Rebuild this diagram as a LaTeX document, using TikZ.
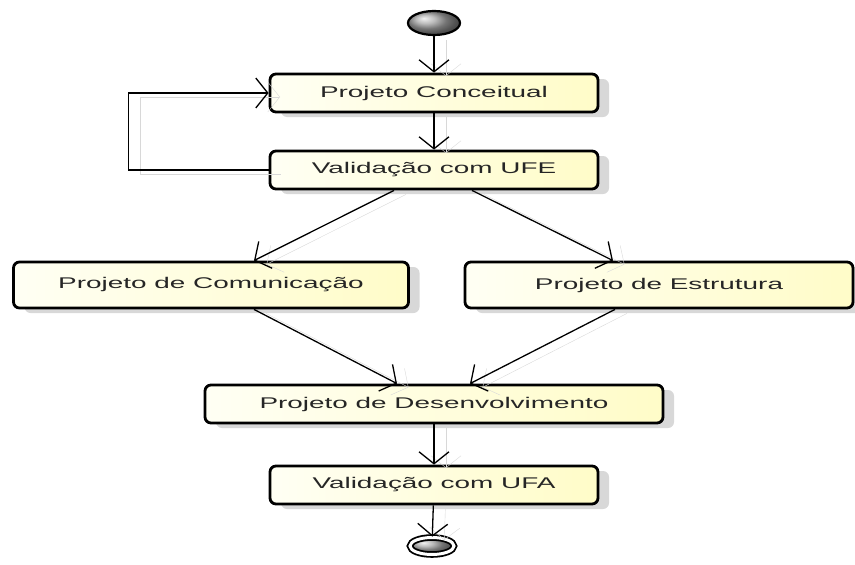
\documentclass[tikz,border=0pt]{standalone}
\usepackage{fontspec}
\setmainfont[FakeStretch=1.8]{Liberation Sans}
\usetikzlibrary{arrows.meta, positioning, shapes.geometric, shadows}

\definecolor{boxleft}{RGB}{255,255,244}
\definecolor{boxright}{RGB}{255,252,200}
\definecolor{shadowgray}{RGB}{216,216,216}

\begin{document}
\begin{tikzpicture}[x=1pt, y=-1pt, font=\fontsize{15.5}{18}\selectfont,
    activity/.style={draw, line width=2.8pt, rounded corners=6pt, text=black!85,
        left color=boxleft, right color=boxright, minimum height=38pt,
        drop shadow={shadow xshift=11pt, shadow yshift=-5pt, fill=shadowgray, opacity=1}},
    flow/.style={line width=1.3pt, -{Straight Barb[length=12pt, width=30pt, line width=1.3pt]},
        preaction={draw=shadowgray, transform canvas={xshift=12pt, yshift=-4pt}}}]
    \useasboundingbox (0,0) rectangle (855,565);

    % inicio e fim
    \node[ellipse, draw, line width=2.2pt, minimum width=52pt, minimum height=24pt,
          shading=ball, ball color=gray!70] (inicio) at (434,23) {};
    \node[ellipse, draw, line width=1.8pt, double=white, double distance=3pt,
          minimum width=44pt, minimum height=17pt, shading=ball, ball color=gray!70] (fim) at (432,546) {};

    % atividades
    \node[activity, minimum width=328pt] (conc) at (434,93) {Projeto Conceitual\hspace{18pt}};
    \node[activity, minimum width=328pt] (ufe) at (434,170) {Validação com UFE\hspace{18pt}};
    \node[activity, minimum width=395pt, minimum height=46pt] (com) at (211,285) {Projeto de Comunicação\hspace{18pt}};
    \node[activity, minimum width=388pt, minimum height=46pt] (est) at (659,285) {Projeto de Estrutura};
    \node[activity, minimum width=458pt] (dev) at (434,404) {Projeto de Desenvolvimento\hspace{18pt}};
    \node[activity, minimum width=328pt] (ufa) at (434,485) {Validação com UFA\hspace{18pt}};

    % fluxos
    \draw[flow] (inicio) -- (conc);
    \draw[flow] (conc) -- (ufe);
    \draw[flow] (ufe.west) -- ++(-140,0) |- (conc.west);
    \draw[flow] ([xshift=-40pt]ufe.south) -- ([xshift=43pt]com.north);
    \draw[flow] ([xshift=38pt]ufe.south) -- ([xshift=-46pt]est.north);
    \draw[flow] ([xshift=43pt]com.south) -- ([xshift=-37pt]dev.north);
    \draw[flow] ([xshift=-44pt]est.south) -- ([xshift=36pt]dev.north);
    \draw[flow] (dev) -- (ufa);
    \draw[flow] (ufa) -- (fim);
\end{tikzpicture}
\end{document}
